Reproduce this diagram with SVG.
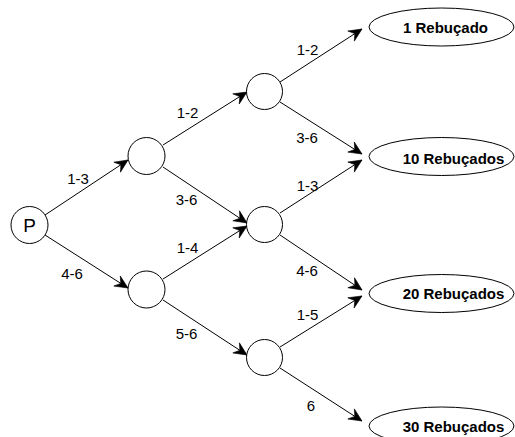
<svg xmlns="http://www.w3.org/2000/svg" width="515" height="437" viewBox="0 0 515 437">
<style>
.n{fill:#fff;stroke:#000;stroke-width:1}
.e{fill:none;stroke:#000;stroke-width:1;marker-end:url(#ah)}
.t{font-family:"Liberation Sans",Arial,sans-serif;font-size:15px;fill:#000;text-anchor:middle}
.b{font-weight:bold}
</style>
<defs>
<marker id="ah" markerUnits="userSpaceOnUse" viewBox="-15 -8 16 16" refX="0" refY="0" markerWidth="16" markerHeight="16" orient="auto">
<path d="M-13,-6 L0,0 L-13,6 L-8.5,0 Z" fill="#000" stroke="#000" stroke-width="0.6" stroke-linejoin="round"/>
</marker>
</defs>
<rect width="515" height="437" fill="#fff"/>
<g id="connectors">
<line class="e" x1="45" y1="215" x2="128" y2="160"/>
<line class="e" x1="45" y1="235" x2="128" y2="288"/>
<line class="e" x1="163" y1="145" x2="247" y2="92"/>
<line class="e" x1="163" y1="167" x2="247" y2="223"/>
<line class="e" x1="163" y1="279" x2="247" y2="226"/>
<line class="e" x1="163" y1="300" x2="247" y2="355"/>
<line class="e" x1="280" y1="82" x2="362" y2="29"/>
<line class="e" x1="280" y1="102" x2="362" y2="154"/>
<line class="e" x1="280" y1="213" x2="362" y2="160"/>
<line class="e" x1="280" y1="235" x2="362" y2="290"/>
<line class="e" x1="280" y1="347" x2="362" y2="296"/>
<line class="e" x1="280" y1="368" x2="362" y2="421"/>
</g>
<g id="labels">
<text class="t" x="78" y="184">1-3</text>
<text class="t" x="72" y="279">4-6</text>
<text class="t" x="187.5" y="118">1-2</text>
<text class="t" x="186.5" y="205">3-6</text>
<text class="t" x="187.5" y="253">1-4</text>
<text class="t" x="186.5" y="339">5-6</text>
<text class="t" x="307.5" y="55">1-2</text>
<text class="t" x="307" y="143">3-6</text>
<text class="t" x="307.5" y="191">1-3</text>
<text class="t" x="307" y="276">4-6</text>
<text class="t" x="307.5" y="320">1-5</text>
<text class="t" x="311" y="411">6</text>
</g>
<g id="P"><circle class="n" cx="29.5" cy="225" r="18.5"/><text class="t" x="29.5" y="232" style="font-size:19px">P</text></g>
<g id="n1a"><circle class="n" cx="146.5" cy="156" r="18.5"/></g>
<g id="n1b"><circle class="n" cx="146.5" cy="289.5" r="18.5"/></g>
<g id="n2a"><circle class="n" cx="264.5" cy="91.5" r="18"/></g>
<g id="n2b"><circle class="n" cx="264.5" cy="224.5" r="18"/></g>
<g id="n2c"><circle class="n" cx="264.5" cy="357.5" r="18"/></g>
<g id="r1"><ellipse class="n" cx="441.5" cy="27" rx="72.5" ry="19"/><text class="t b" x="445.5" y="33">1 Rebuçado</text></g>
<g id="r10"><ellipse class="n" cx="441.5" cy="156.5" rx="72.5" ry="19"/><text class="t b" x="453.5" y="164">10 Rebuçados</text></g>
<g id="r20"><ellipse class="n" cx="441.5" cy="293.5" rx="72.5" ry="19"/><text class="t b" x="453.5" y="299">20 Rebuçados</text></g>
<g id="r30"><ellipse class="n" cx="441.5" cy="426" rx="72.5" ry="19"/><text class="t b" x="453.5" y="432">30 Rebuçados</text></g>
</svg>
